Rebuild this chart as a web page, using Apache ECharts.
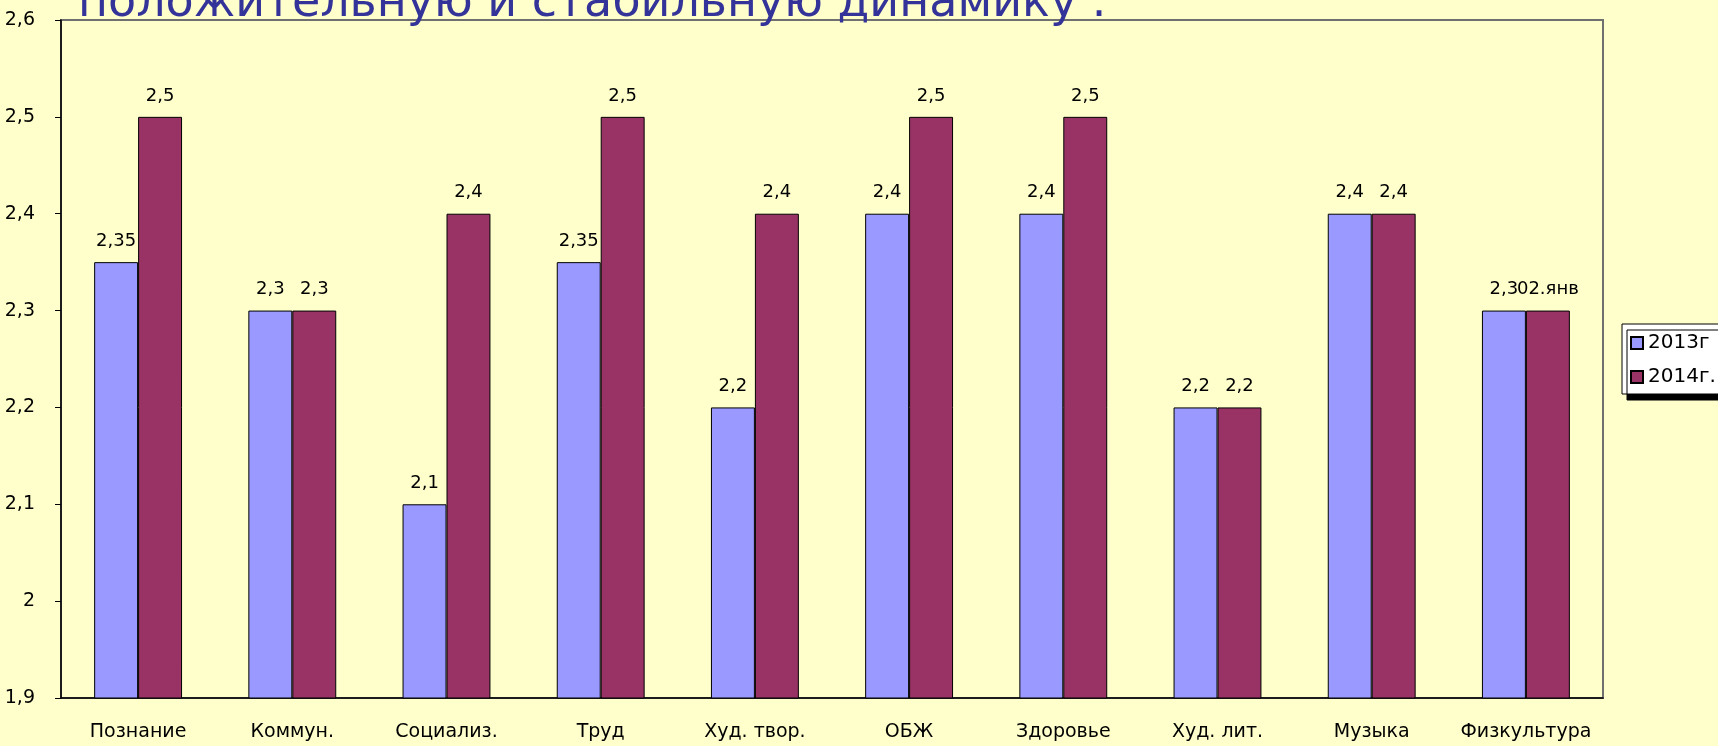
<!DOCTYPE html>
<html>
<head>
<meta charset="utf-8">
<script src="https://cdn.jsdelivr.net/npm/echarts@6/dist/echarts.min.js"></script>
<style>
html,body{margin:0;padding:0;background:#FFFFCC;}
#chart{width:1718px;height:746px;}
</style>
</head>
<body>
<div id="chart"></div>
<script>
const categories = ['Познание','Коммун.','Социализ.','Труд','Худ. твор.','ОБЖ','Здоровье','Худ. лит.','Музыка','Физкультура'];
const values2013 = [2.35, 2.3, 2.1, 2.35, 2.2, 2.4, 2.4, 2.2, 2.4, 2.3];
const values2014 = [2.5, 2.3, 2.4, 2.5, 2.4, 2.5, 2.5, 2.2, 2.4, 2.3];
const labels2013 = ['2,35','2,3','2,1','2,35','2,2','2,4','2,4','2,2','2,4','2,3'];
const labels2014 = ['2,5','2,3','2,4','2,5','2,4','2,5','2,5','2,2','2,4','02.янв'];
const seriesNames = ['2013г', '2014г.'];
const yTickLabels = {'1.9':'1,9','2':'2','2.1':'2,1','2.2':'2,2','2.3':'2,3','2.4':'2,4','2.5':'2,5','2.6':'2,6'};
const titleText = 'положительную и стабильную динамику .';

const chart = echarts.init(document.getElementById('chart'), null, {renderer:'canvas'});
const numFont = 'DejaVu Sans';
function labelCfg(arr){
  return {
    show:true, position:'top', distance:12,
    fontFamily:numFont, fontSize:18, color:'#000',
    formatter: p => arr[p.dataIndex]
  };
}
chart.setOption({
  backgroundColor:'#FFFFCC',
  animation:false,
  grid:{left:61, top:20, right:115, bottom:48, show:true, borderColor:'#707070', borderWidth:2, backgroundColor:'transparent'},
  legend:{
    orient:'vertical', left:1622, top:324,
    data:seriesNames,
    backgroundColor:'#ffffff', borderColor:'#000', borderWidth:1,
    padding:[9,40,7,8], itemGap:14,
    itemWidth:12, itemHeight:12, icon:'rect',
    shadowColor:'#000', shadowBlur:0, shadowOffsetX:5, shadowOffsetY:6,
    textStyle:{fontFamily:numFont, fontSize:20, color:'#000'}
  },
  xAxis:{
    type:'category', data:categories,
    axisLine:{lineStyle:{color:'#000', width:1.5}},
    axisTick:{show:false},
    axisLabel:{fontFamily:numFont, fontSize:19, color:'#000', margin:25, interval:0}
  },
  yAxis:{
    type:'value', min:1.9, max:2.6, interval:0.1,
    axisLine:{show:true, lineStyle:{color:'#000', width:1.5}},
    axisTick:{show:true, length:6, lineStyle:{color:'#000'}},
    splitLine:{show:false},
    axisLabel:{fontFamily:numFont, fontSize:19, color:'#000', margin:26,
      formatter: v => yTickLabels[String(Math.round(v*10)/10)] || String(v)}
  },
  series:[
    {name:seriesNames[0], type:'bar', data:values2013, barGap:'0%', barCategoryGap:'43%',
     itemStyle:{color:'#9999FF', borderColor:'#000', borderWidth:1},
     label:labelCfg(labels2013)},
    {name:seriesNames[1], type:'bar', data:values2014, barGap:'0%', barCategoryGap:'43%',
     itemStyle:{color:'#993366', borderColor:'#000', borderWidth:1},
     label:labelCfg(labels2014)}
  ],
  graphic:[{
    type:'text', left:78, top:-19, z:100,
    style:{text:titleText, font:'46px "DejaVu Sans"', fill:'#333399'}
  }]
});
</script>
</body>
</html>
